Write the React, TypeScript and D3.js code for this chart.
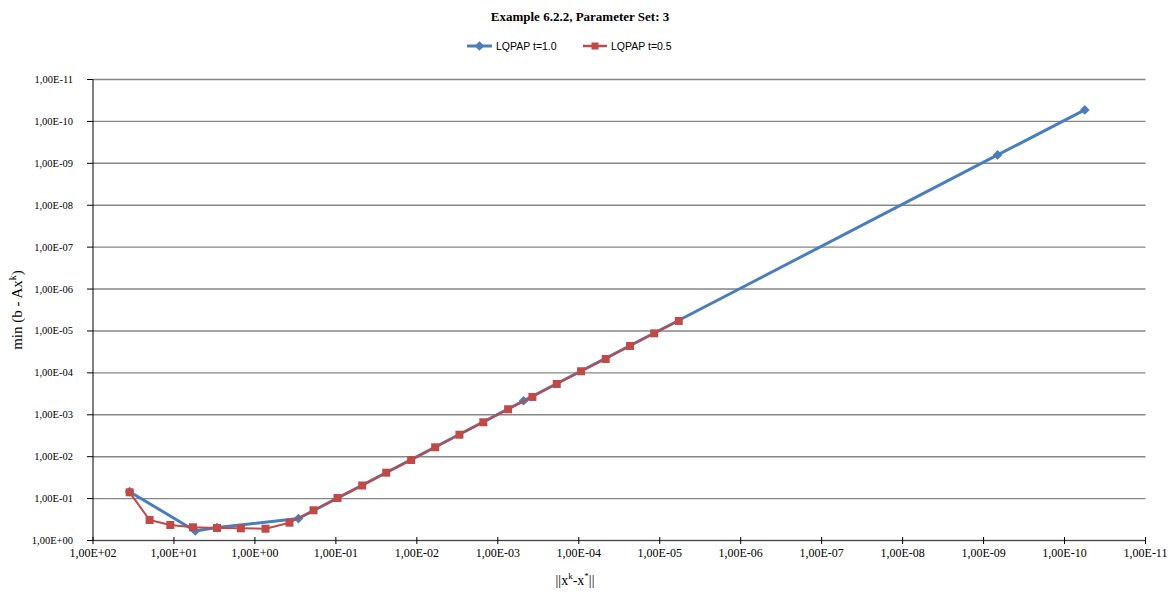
import React from "react";
import * as d3 from "d3";

const xTickExps = [2, 1, 0, -1, -2, -3, -4, -5, -6, -7, -8, -9, -10, -11];
const yTickExps = [0, -1, -2, -3, -4, -5, -6, -7, -8, -9, -10, -11];

const seriesBlueName = "LQPAP t=1.0";
const blueX = [35.3, 5.46, 2.94, 0.29, 4.8e-4, 6.71e-10, 5.62e-11];
const blueY = [0.0684, 0.593, 0.49, 0.299, 4.63e-4, 6.31e-10, 5.32e-11];

const seriesRedName = "LQPAP t=0.5";
const redX = [
  35.3, 20.0, 11.1, 5.82, 2.94, 1.49, 0.74, 0.374, 0.189, 0.0955, 0.0473, 0.0239,
  0.01175, 0.00594, 0.00298, 0.00151, 7.46e-4, 3.74e-4, 1.87e-4, 9.37e-5, 4.65e-5,
  2.33e-5, 1.17e-5, 5.82e-6,
];
const redY = [
  0.0708, 0.324, 0.427, 0.484, 0.503, 0.512, 0.523, 0.376, 0.19, 0.0968, 0.0487,
  0.0241, 0.012, 0.00597, 0.00299, 0.00151, 7.39e-4, 3.76e-4, 1.84e-4, 9.16e-5,
  4.66e-5, 2.28e-5, 1.14e-5, 5.77e-6,
];

const W = 1175;
const H = 597;
const left = 93;
const right = 1145.5;
const top = 79.5;
const bottom = 540.5;

const BLUE = "#4A7EBB";
const RED = "#BE4B48";
const GRID = "#868686";
const SERIF = "'Liberation Serif', 'Times New Roman', serif";
const SANS = "'Liberation Sans', Arial, sans-serif";

function fmt(e: number) {
  const s = e >= 0 ? "+" : "-";
  const a = Math.abs(e);
  return `1,00E${s}${a < 10 ? "0" + a : a}`;
}

export default function App() {
  const x = d3.scaleLog().domain([1e2, 1e-11]).range([left, right]);
  const y = d3.scaleLog().domain([1, 1e-11]).range([bottom, top]);

  const blue = blueX.map((v, i) => [x(v), y(blueY[i])] as [number, number]);
  const red = redX.map((v, i) => [x(v), y(redY[i])] as [number, number]);
  const line = d3.line<[number, number]>();
  const diamond = d3.symbol().type(d3.symbolDiamond2).size(60);

  return (
    <svg
      width={W}
      height={H}
      style={{ position: "absolute", left: 0, top: 0, background: "#fff" }}
    >
      <rect x={0} y={0} width={W} height={H} fill="#fff" />
      <text
        x={580}
        y={21}
        textAnchor="middle"
        fontFamily={SERIF}
        fontWeight="bold"
        fontSize={13}
        fill="#000"
      >
        Example 6.2.2, Parameter Set: 3
      </text>

      {/* legend */}
      <g>
        <line x1={467} x2={492} y1={46} y2={46} stroke={BLUE} strokeWidth={3} />
        <path d={diamond()!} transform="translate(479.5,46)" fill={BLUE} />
        <text x={496} y={50} fontFamily={SANS} fontSize={10.5} fill="#000">
          {seriesBlueName}
        </text>
        <line x1={583} x2={607} y1={46} y2={46} stroke={RED} strokeWidth={2.5} />
        <rect x={591.5} y={42.5} width={7} height={7} fill={RED} />
        <text x={611} y={50} fontFamily={SANS} fontSize={10.5} fill="#000">
          {seriesRedName}
        </text>
      </g>

      {/* gridlines */}
      {yTickExps.map((e) => (
        <line
          key={"g" + e}
          x1={left}
          x2={right}
          y1={y(Math.pow(10, e))}
          y2={y(Math.pow(10, e))}
          stroke={GRID}
          strokeWidth={1.4}
        />
      ))}

      {/* y axis */}
      <line x1={left} x2={left} y1={top} y2={bottom} stroke="#000" strokeWidth={1} />
      {yTickExps.map((e) => (
        <g key={"y" + e}>
          <line
            x1={left - 6}
            x2={left}
            y1={y(Math.pow(10, e))}
            y2={y(Math.pow(10, e))}
            stroke="#000"
            strokeWidth={1}
          />
          <text
            x={73}
            y={y(Math.pow(10, e)) + 3.5}
            textAnchor="end"
            fontFamily={SERIF}
            fontSize={10.5}
            fill="#000"
          >
            {fmt(e)}
          </text>
        </g>
      ))}

      {/* x axis */}
      <line x1={left} x2={right} y1={bottom} y2={bottom} stroke="#444" strokeWidth={1} />
      {xTickExps.map((e) => (
        <g key={"x" + e}>
          <line
            x1={x(Math.pow(10, e))}
            x2={x(Math.pow(10, e))}
            y1={bottom - 3.5}
            y2={bottom + 3.5}
            stroke="#000"
            strokeWidth={1}
          />
          <text
            x={x(Math.pow(10, e))}
            y={557}
            textAnchor="middle"
            fontFamily={SERIF}
            fontSize={12}
            fill="#000"
          >
            {fmt(e)}
          </text>
        </g>
      ))}

      {/* axis titles */}
      <text
        transform="translate(22,310) rotate(-90)"
        textAnchor="middle"
        fontFamily={SERIF}
        fontSize={15}
        fill="#000"
      >
        min (b - Ax
        <tspan dy={-6} fontSize={10}>
          k
        </tspan>
        <tspan dy={6}>)</tspan>
      </text>
      <text x={575} y={585} textAnchor="middle" fontFamily={SERIF} fontSize={14} fill="#000">
        ||x
        <tspan dy={-6} fontSize={9}>
          k
        </tspan>
        <tspan dy={6}>-x</tspan>
        <tspan dy={-6} fontSize={9}>
          *
        </tspan>
        <tspan dy={6}>||</tspan>
      </text>

      {/* blue series */}
      <path d={line(blue)!} fill="none" stroke={BLUE} strokeWidth={3} strokeLinejoin="round" />
      {blue.map((p, i) => (
        <path key={"b" + i} d={diamond()!} transform={`translate(${p[0]},${p[1]})`} fill={BLUE} />
      ))}

      {/* red series */}
      <path d={line(red)!} fill="none" stroke={RED} strokeWidth={2} strokeLinejoin="round" />
      {red.map((p, i) => (
        <rect key={"r" + i} x={p[0] - 4} y={p[1] - 4} width={8} height={8} fill={RED} />
      ))}
    </svg>
  );
}
